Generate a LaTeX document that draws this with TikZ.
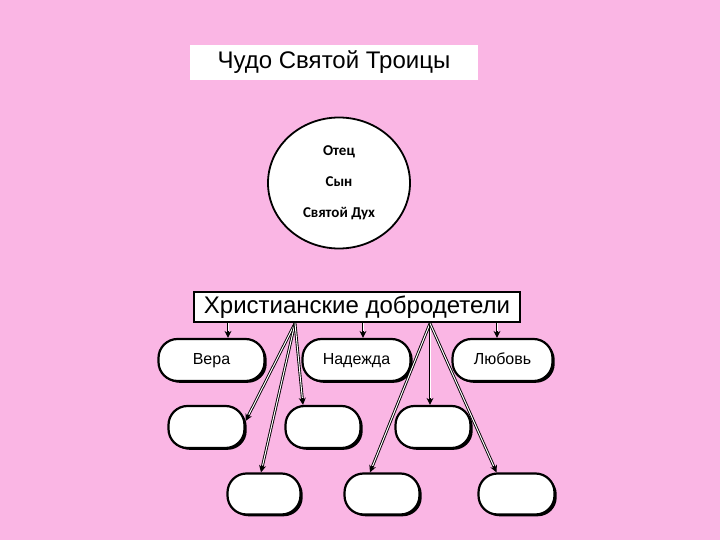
\documentclass[tikz,border=0pt]{standalone}
\usepackage{fontspec}
\setmainfont{Liberation Sans}
\newfontfamily\calfont{Carlito}
\usetikzlibrary{calc,shapes.geometric,arrows.meta,shadows}
\definecolor{bgpink}{RGB}{250,182,228}
\tikzset{
  pill/.style={draw=black, line width=2.2pt, fill=white, rounded corners=19pt,
    minimum height=42pt, inner sep=0pt, font=\fontsize{16}{18}\selectfont,
    text height=11.5pt, text depth=3.5pt,
    drop shadow={shadow xshift=2.2pt, shadow yshift=-1.8pt, fill=black, opacity=1}},
  dbl/.style={draw=black, line width=2.8pt, -{Stealth[length=7pt,width=7pt]},
    postaction={draw=white, line width=1pt, shorten >=7pt, -}},
}
\begin{document}
\begin{tikzpicture}[x=1pt,y=-1pt]
\fill[bgpink] (0,0) rectangle (720,540);
\useasboundingbox (0,0) rectangle (720,540);

\node[fill=white, minimum width=288pt, minimum height=35pt, inner sep=0pt,
  font=\fontsize{24}{27}\selectfont] (title) at (334,62.5) {Чудо Святой Троицы};

\node[ellipse, draw=black, line width=1.8pt, fill=white, minimum width=142pt,
  minimum height=131pt, inner sep=0pt, align=center,
  font=\calfont\bfseries\fontsize{15}{31}\selectfont] (circ) at (339,183)
  {Отец\\Сын\\Святой Дух};

\node[draw=black, line width=2.8pt, fill=white, minimum width=326pt, minimum height=30pt,
  inner sep=0pt, font=\fontsize{24}{27}\selectfont] (virt) at (357,307)
  {Христианские добродетели};

\node[pill, minimum width=106pt] (vera) at (211.5,360) {Вера};
\node[pill, minimum width=108pt] (nad) at (356.5,360) {Надежда};
\node[pill, minimum width=100pt] (lub) at (502.5,360) {Любовь};

\node[pill, minimum width=76pt] (r2a) at (206.5,427) {};
\node[pill, minimum width=75pt] (r2b) at (323,427) {};
\node[pill, minimum width=75pt] (r2c) at (433,427) {};

\node[pill, minimum width=73pt, minimum height=41pt] (r3a) at (264,494) {};
\node[pill, minimum width=75pt, minimum height=41pt] (r3b) at (382,494) {};
\node[pill, minimum width=76pt, minimum height=41pt] (r3c) at (516.5,494) {};

\coordinate (s1) at ($(virt.south)+(-129,0)$);
\coordinate (s2) at ($(virt.south)+(6,0)$);
\coordinate (s3) at ($(virt.south)+(140,0)$);
\coordinate (fl) at ($(virt.south)+(-62,0)$);
\coordinate (fr) at ($(virt.south)+(73,0)$);

\draw[dbl] (s1) -- (s1 |- vera.north);
\draw[dbl] (s2) -- (s2 |- nad.north);
\draw[dbl] (s3) -- (s3 |- lub.north);

\draw[dbl] (fl) -- ($(r2a.east)+(0,-6)$);
\draw[dbl] (fl) -- ($(r3a.north)+(-3,0)$);
\draw[dbl] (fl) -- ($(r2b.north)+(-20,0)$);

\draw[dbl] (fr) -- ($(r3b.north)+(-12,0)$);
\draw[dbl] (fr) -- ($(r2c.north)+(-3,0)$);
\draw[dbl] (fr) -- ($(r3c.north)+(-20,0)$);
\end{tikzpicture}
\end{document}
